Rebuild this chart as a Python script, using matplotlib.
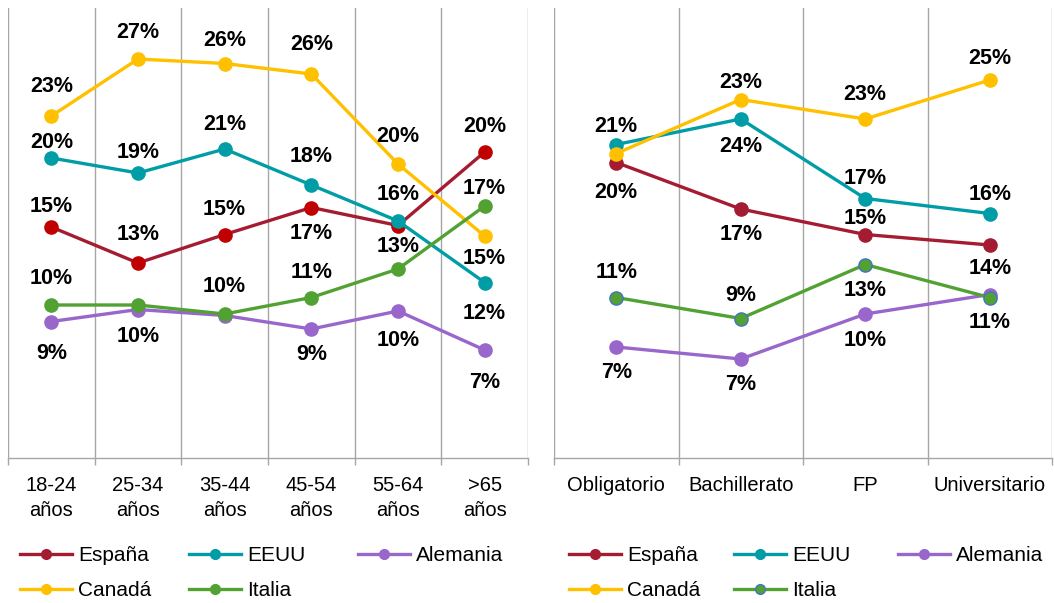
import matplotlib.pyplot as plt
from matplotlib.lines import Line2D
import numpy as np

plt.rcParams['font.family'] = ['Liberation Sans', 'DejaVu Sans']

# ---- data ---------------------------------------------------------------
paises = ["España", "EEUU", "Alemania", "Canadá", "Italia"]

edades = ["18-24\naños", "25-34\naños", "35-44\naños",
          "45-54\naños", "55-64\naños", ">65\naños"]
espana_edad = [15.4, 13.0, 14.9, 16.7, 15.5, 20.4]
eeuu_edad = [20.0, 19.0, 20.6, 18.2, 15.8, 11.7]
alemania_edad = [9.1, 9.9, 9.5, 8.6, 9.8, 7.2]
canada_edad = [22.8, 26.6, 26.3, 25.6, 19.6, 14.8]
italia_edad = [10.2, 10.2, 9.6, 10.7, 12.6, 16.8]

estudios = ["Obligatorio", "Bachillerato", "FP", "Universitario"]
espana_est = [19.7, 16.6, 14.9, 14.2]
eeuu_est = [20.9, 22.6, 17.3, 16.3]
alemania_est = [7.4, 6.6, 9.6, 10.9]
canada_est = [20.3, 23.9, 22.6, 25.2]
italia_est = [10.7, 9.3, 12.9, 10.7]

# ---- style --------------------------------------------------------------
W, H = 1054, 603
colores = {"España": "#A51C32", "EEUU": "#009DA6", "Alemania": "#9966CC",
           "Canadá": "#FFC000", "Italia": "#51A232"}
GRIS = "#A6A6A6"
LW = 2.4
MS = 9.5
FS_ETIQ = 15.5
FS_EJE = 14.5
FS_LEY = 15

# label offsets in pixels (positive = below the point); None = no label
off_edad = {
    "España":   [-21, -28, -25, 26, None, -26],
    "EEUU":     [-15, -21, -24, -28, -27, 31],
    "Alemania": [32, 27, None, 25, 29, 32],
    "Canadá":   [-29, -27, -23, -30, -28, 22],
    "Italia":   [-27, None, -28, -25, -22, -17],
}
off_est = {
    "España":   [30, 25, -16, 23],
    "EEUU":     [-18, -37, -20, -19],
    "Alemania": [26, 26, 26, None],
    "Canadá":   [None, 47, -24, -21],
    "Italia":   [-25, -23, 26, 25],
}

fig = plt.figure(figsize=(W / 100, H / 100), dpi=100)
ax1 = fig.add_axes([8 / W, 145 / H, 520 / W, 450 / H])
ax2 = fig.add_axes([554 / W, 145 / H, 498 / W, 450 / H])


def panel(ax, cats, series, offsets, marcadores, bordes):
    n = len(cats)
    x = np.arange(n)
    for k, (nombre, vals) in enumerate(series):
        ax.plot(x, vals, color=colores[nombre], lw=LW, marker="o",
                markersize=MS, markerfacecolor=marcadores[nombre],
                markeredgecolor=bordes.get(nombre, marcadores[nombre]),
                markeredgewidth=1.0, zorder=3 + k, solid_capstyle="round")
        for i, v in enumerate(vals):
            off = offsets[nombre][i]
            if off is None:
                continue
            ax.annotate(f"{v:.0f}%", (i, v), xytext=(0, -off),
                        textcoords="offset pixels", ha="center", va="center",
                        fontsize=FS_ETIQ, fontweight="bold", color="black",
                        zorder=20)
    ax.set_xlim(-0.5, n - 0.5)
    ax.set_ylim(0, 30)
    ax.set_yticks([])
    ax.set_xticks(x)
    ax.set_xticklabels(cats, fontsize=FS_EJE, linespacing=1.42)
    ax.set_xticks(np.arange(n + 1) - 0.5, minor=True)
    ax.tick_params(axis="x", which="major", length=0, pad=13)
    ax.tick_params(axis="x", which="minor", length=5, width=1.0,
                   color=GRIS, direction="out")
    ax.grid(which="minor", axis="x", color=GRIS, lw=1.0)
    for s in ("left", "right", "top"):
        ax.spines[s].set_visible(False)
    ax.spines["bottom"].set_color(GRIS)
    ax.spines["bottom"].set_linewidth(1.0)


serie_edad = [("España", espana_edad), ("EEUU", eeuu_edad),
              ("Alemania", alemania_edad), ("Canadá", canada_edad),
              ("Italia", italia_edad)]
serie_est = [("España", espana_est), ("EEUU", eeuu_est),
             ("Alemania", alemania_est), ("Canadá", canada_est),
             ("Italia", italia_est)]

marc1 = dict(colores)
marc1["España"] = "#C00000"
marc2 = dict(colores)
bordes2 = {"Italia": "#4472C4"}

panel(ax1, edades, serie_edad, off_edad, marc1, {})
panel(ax2, estudios, serie_est, off_est, marc2, bordes2)


def leyenda(x_cols, bordes):
    columnas = [["España", "Canadá"], ["EEUU", "Italia"], ["Alemania"]]
    for xc, col in zip(x_cols, columnas):
        hs = [Line2D([], [], color=colores[p], lw=LW, marker="o",
                     markersize=7, markerfacecolor=colores[p],
                     markeredgecolor=bordes.get(p, colores[p]),
                     markeredgewidth=1.0) for p in col]
        fig.legend(hs, col, loc="upper left",
                   bbox_to_anchor=(xc / W, 1 - 546 / H), frameon=False,
                   borderpad=0, borderaxespad=0, handlelength=2.5,
                   handletextpad=0.28, labelspacing=0.78, fontsize=FS_LEY)


leyenda([20, 189, 358], {})
leyenda([569, 734, 898], bordes2)

fig.savefig("out.png", dpi=100)
